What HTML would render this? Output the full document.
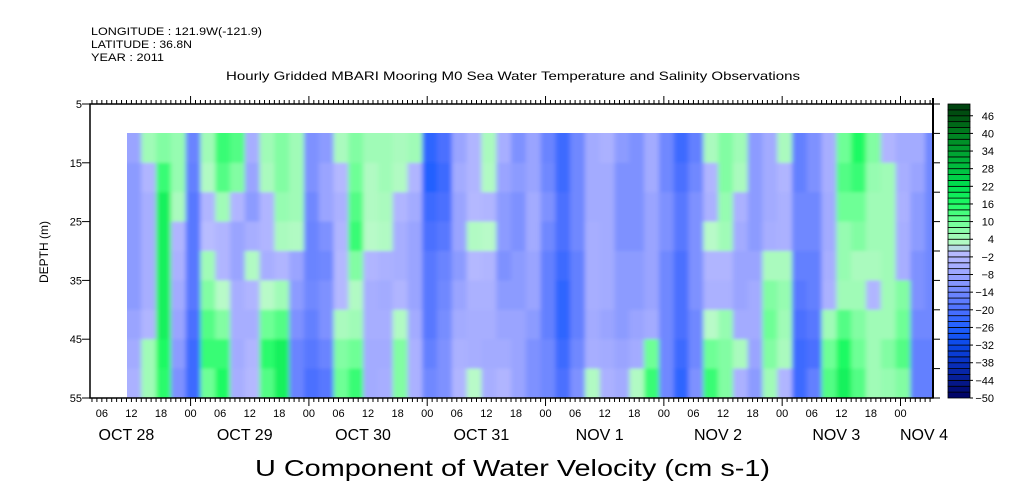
<!DOCTYPE html>
<html><head><meta charset="utf-8"><style>
body{margin:0;background:#fff;}
svg{display:block;font-family:"Liberation Sans",sans-serif;}
</style></head><body>
<svg id="chart" width="1009" height="504" viewBox="0 0 1009 504" xmlns="http://www.w3.org/2000/svg">
<defs>
<clipPath id="dataclip"><rect x="127" y="133" width="806" height="265"/></clipPath>
<filter id="soft" x="-5%" y="-5%" width="110%" height="110%"><feGaussianBlur stdDeviation="2.5 1.5"/></filter>
</defs>
<g font-size="11" fill="#000">
<text x="91" y="35" textLength="171" lengthAdjust="spacingAndGlyphs">LONGITUDE : 121.9W(-121.9)</text>
<text x="91" y="48" textLength="101" lengthAdjust="spacingAndGlyphs">LATITUDE : 36.8N</text>
<text x="91" y="61" textLength="73" lengthAdjust="spacingAndGlyphs">YEAR : 2011</text>
</g>
<text x="226" y="80" font-size="12" textLength="574" lengthAdjust="spacingAndGlyphs">Hourly Gridded MBARI Mooring M0 Sea Water Temperature and Salinity Observations</text>
<g clip-path="url(#dataclip)"><g id="heat" filter="url(#soft)"></g></g>
<g id="axes"></g>
<g id="cbar"></g>
<text x="48" y="252" transform="rotate(-90 48 252)" text-anchor="middle" font-size="12">DEPTH (m)</text>
<text x="255" y="476" font-size="23" textLength="515" lengthAdjust="spacingAndGlyphs">U Component of Water Velocity (cm s-1)</text>
</svg>
<script>
// hours since OCT 28 00:00 for each column start (3-hour steps)
const startHour = 11;
const stepHours = 3;
// depth band edges (m)
const depthEdges = [10,15,20,25,30,35,40,45,50,55];
// values per column (cm/s), top to bottom bands
const values = [
[-8,-10,-10,-10,-10,-10,-8,-6,-4],
[5,-3,-5,-5,-5,-5,-3,5,5],
[8,14,18,18,18,18,18,16,15],
[6,6,4,-3,-4,-6,-8,-10,-12],
[-15,-16,-18,-18,-18,-18,-20,-22,-22],
[5,3,-3,0,5,8,12,14,10],
[14,12,5,-3,-3,2,8,14,16],
[12,8,-3,-8,-8,-5,-5,-6,-5],
[-5,-8,-10,-5,3,-3,-5,-3,-2],
[5,4,-3,-3,-5,2,10,15,12],
[8,8,6,4,-3,5,12,18,18],
[5,5,5,3,-8,-10,-12,-15,-15],
[-12,-12,-14,-15,-15,-14,-16,-18,-20],
[-10,-8,-8,-12,-14,-12,-12,-15,-18],
[4,-2,-4,-3,-2,-2,4,8,10],
[8,10,12,14,8,3,5,10,14],
[5,3,3,2,-3,-5,-5,-6,-6],
[5,5,4,3,-4,-6,-5,-6,-5],
[4,3,-3,-5,-5,-3,3,8,8],
[5,-3,-6,-8,-8,-8,-6,-4,-4],
[-24,-26,-22,-20,-18,-18,-18,-16,-14],
[-20,-22,-20,-18,-15,-14,-13,-12,-12],
[-8,-6,-8,-8,-10,-8,-6,-4,-3],
[-3,-3,-2,3,-2,-4,-5,-5,2],
[4,3,-3,2,-3,-4,-5,-6,-5],
[-5,-8,-10,-10,-12,-10,-8,-6,-3],
[-12,-10,-12,-12,-10,-10,-8,-8,-8],
[-8,-8,-6,-6,-8,-8,-10,-12,-12],
[-15,-14,-12,-14,-16,-16,-16,-14,-14],
[-22,-22,-20,-20,-22,-24,-24,-22,-20],
[-14,-14,-14,-14,-16,-16,-16,-14,-12],
[-6,-6,-6,-5,-5,-5,-6,-5,3],
[-4,-6,-6,-6,-6,-6,-8,-6,-4],
[-10,-12,-12,-12,-10,-10,-10,-8,-6],
[-12,-12,-12,-12,-10,-10,-8,-6,3],
[-6,-6,-8,-8,-8,-8,-6,10,14],
[-14,-14,-12,-12,-14,-14,-14,-14,-14],
[-22,-20,-18,-18,-20,-20,-20,-22,-24],
[-16,-14,-12,-12,-12,-12,-14,-14,-12],
[4,-3,-4,2,-3,-4,2,10,14],
[8,8,6,5,-3,-4,6,8,8],
[5,4,-4,-6,-8,-8,-6,4,-4],
[-10,-10,-10,-10,-8,-6,-6,-8,-10],
[-6,-6,-6,-5,4,8,10,8,5],
[4,-3,-4,-4,4,6,5,4,-3],
[-16,-16,-14,-14,-16,-18,-20,-22,-22],
[-12,-12,-14,-14,-16,-16,-18,-20,-16],
[-5,-5,-6,-6,-5,-4,5,10,12],
[10,12,10,6,6,5,12,16,18],
[16,14,10,8,4,5,8,10,12],
[8,6,5,5,4,-3,5,5,5],
[-3,5,5,5,5,5,5,8,6],
[-6,-5,-4,-5,-5,8,10,12,8],
[-6,-8,-10,-10,-12,-12,-14,-16,-16],
[-14,-14,-14,-14,-14,-14,-14,-16,-16]
];
const hourTickLabels = ["06","12","18","00"];
const dayLabels = ["OCT 28","OCT 29","OCT 30","OCT 31","NOV  1","NOV  2","NOV  3","NOV 4"];
const depthTicks = [5,15,25,35,45,55];
const cbarLabels = [-50,-44,-38,-32,-26,-20,-14,-8,-2,4,10,16,22,28,34,40,46];

const NS="http://www.w3.org/2000/svg";
const L=90, R=933, T=104, B=398;
const H0=3.6, H1=H0+(R-L)/4.93;
const xs=h=>L+(h-H0)*(R-L)/(H1-H0);
const ys=d=>T+(d-5)*(B-T)/50;
function mk(tag,attrs,parent){const e=document.createElementNS(NS,tag);for(const k in attrs)e.setAttribute(k,attrs[k]);parent.appendChild(e);return e;}
const stops=[[-50,[0,0,96]],[-44,[6,28,144]],[-38,[8,48,192]],[-32,[10,72,232]],[-26,[32,96,255]],[-20,[76,112,255]],[-14,[112,136,255]],[-8,[154,164,255]],[-2,[180,184,255]],[0,[184,188,255]],[2,[184,250,200]],[4,[170,250,190]],[10,[110,255,150]],[16,[30,250,100]],[22,[0,224,80]],[28,[0,192,64]],[34,[0,160,48]],[40,[0,128,32]],[46,[0,80,16]],[50,[0,64,16]]];
function col(v){v=Math.max(-50,Math.min(50,v));for(let i=0;i<stops.length-1;i++){const a=stops[i],b=stops[i+1];if(v<=b[0]){const t=(v-a[0])/(b[0]-a[0]);const c=a[1].map((x,j)=>Math.round(x+(b[1][j]-x)*t));return `rgb(${c})`;}}return 'rgb(0,64,16)';}

const heat=document.getElementById('heat');
values.forEach((colv,i)=>{
  const h0=startHour+i*stepHours, h1=h0+stepHours;
  colv.forEach((v,j)=>{
    let y0=ys(depthEdges[j]), y1=ys(depthEdges[j+1]);
    if(j===0)y0-=6; if(j===colv.length-1)y1+=6;
    let x0=xs(h0), x1=xs(h1);
    if(i===0)x0-=6;
    const r=mk('rect',{x:x0,y:y0,width:x1-x0+0.5,height:y1-y0+0.5,fill:col(v)},heat);
    
    
  });
});

const ax=document.getElementById('axes');
mk('rect',{x:L,y:T,width:R-L,height:B-T,fill:'none',stroke:'#000','stroke-width':1.5},ax);
for(let h=Math.ceil(H0);h<=H1;h++){
  const x=xs(h), len=(h%24===0)?8:4;
  mk('line',{x1:x,y1:T,x2:x,y2:T-len,stroke:'#000'},ax);
  mk('line',{x1:x,y1:B,x2:x,y2:B+len,stroke:'#000'},ax);
  if(h%6===0 && x<R-12){
    const t=mk('text',{x:x,y:417,'text-anchor':'middle','font-size':11},ax);
    t.textContent=hourTickLabels[(h/6-1)%4];
    
    
  }
}
dayLabels.forEach((d,i)=>{
  let x=xs(i*24+12)-5; if(x>R-5)x=924;
  const t=mk('text',{x:x,y:440,'text-anchor':'middle','font-size':16,'xml:space':'preserve'},ax);
  t.textContent=d;
  
  
});
for(let d=5;d<=55;d+=5){
  const y=ys(d), major=depthTicks.includes(d);
  mk('line',{x1:L,y1:y,x2:L-(major?8:0),y2:y,stroke:'#000'},ax);
  mk('line',{x1:R,y1:y,x2:R+7,y2:y,stroke:'#000'},ax);
  if(major){const t=mk('text',{x:L-8,y:y+4,'text-anchor':'end','font-size':11},ax);t.textContent=d;
    
    }
}
mk('line',{x1:R,y1:T-6,x2:R,y2:B,stroke:'#000','stroke-width':2},ax);

const cb=document.getElementById('cbar');
const CX=948,CW=22,bh=(B-T)/50;
for(let k=0;k<50;k++){
  const v=-49+k*2;
  const r=mk('rect',{x:CX,y:B-(k+1)*bh,width:CW,height:bh,fill:col(v),stroke:'#000','stroke-width':0.8},cb);
  
  
}
cbarLabels.forEach(v=>{
  const y=B-(v+50)/2*bh;
  mk('line',{x1:CX+CW,y1:y,x2:CX+CW+3,y2:y,stroke:'#000'},cb);
  const t=mk('text',{x:994,y:y+4,'text-anchor':'end','font-size':11},cb);
  t.textContent=v<0?'\u2212'+(-v):v;
  
  
});
</script>
</body></html>
